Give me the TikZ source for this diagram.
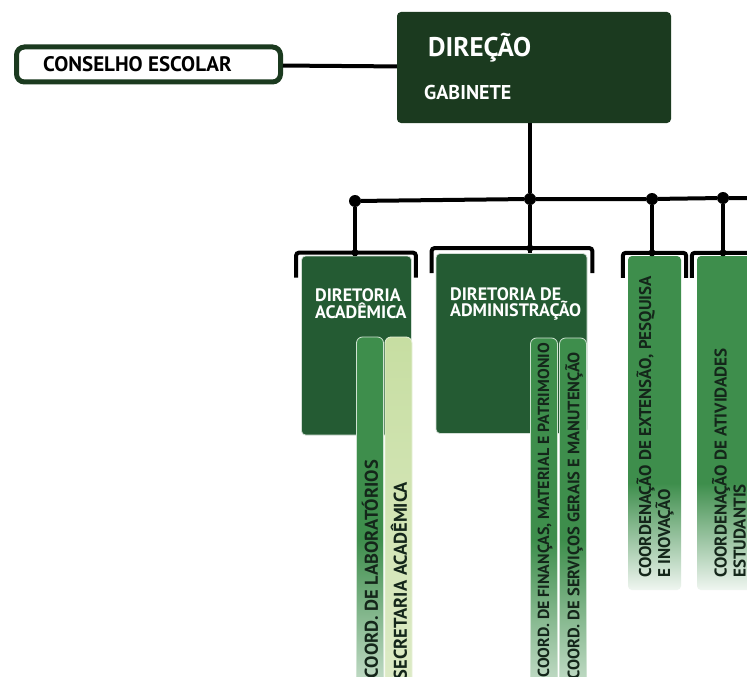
\documentclass[tikz,border=0pt]{standalone}
\usepackage{fontspec}
\setmainfont{PT Sans}
\usetikzlibrary{positioning}
\definecolor{headgreen}{HTML}{1B3A1F}
\definecolor{boardgreen}{HTML}{245B33}
\definecolor{bargreen}{HTML}{3E8E4C}
\definecolor{palegreen}{HTML}{C7DEA2}
\definecolor{inkgreen}{HTML}{14261A}
\colorlet{fadegreen}{white!92!bargreen}
\colorlet{lowgreen}{white!65!bargreen}
\pgfdeclareverticalshading{extfade}{100bp}{color(0bp)=(fadegreen); color(25bp)=(fadegreen); color(41bp)=(bargreen); color(100bp)=(bargreen)}
\pgfdeclareverticalshading{subfade}{100bp}{color(0bp)=(lowgreen); color(28bp)=(lowgreen); color(47bp)=(bargreen); color(100bp)=(bargreen)}
\tikzstyle{council} = [rectangle, rounded corners=8pt, draw=headgreen, line width=5pt, fill=white, minimum width=264pt, minimum height=35pt]
\tikzstyle{head} = [rectangle, rounded corners=4pt, fill=headgreen, minimum width=274pt, minimum height=111pt]
\tikzstyle{board} = [rectangle, rounded corners=4pt, fill=boardgreen, draw=white!80!boardgreen, line width=0.8pt]
\tikzstyle{bar} = [rectangle, rounded corners=6pt, draw=white!75!bargreen, line width=0.8pt, shading=subfade]
\tikzstyle{palebar} = [rectangle, rounded corners=6pt, draw=white!60!palegreen, line width=0.8pt, top color=palegreen, bottom color=palegreen!60]
\tikzstyle{tallbar} = [rectangle, rounded corners=4pt, shading=extfade]
\tikzstyle{link} = [line width=4pt]
\tikzstyle{bracket} = [line width=4pt, rounded corners=3pt]
\tikzstyle{dot} = [circle, fill=black, inner sep=0pt, minimum size=12pt]
\tikzstyle{knot} = [circle, fill=black, inner sep=0pt, minimum size=7pt]
\tikzstyle{bartext} = [rotate=90, inner sep=0pt, text=inkgreen, font=\bfseries\fontsize{17}{19}\selectfont]
\tikzstyle{boxtext} = [inner sep=0pt, anchor=west, text=white, font=\bfseries\fontsize{18}{15}\selectfont, align=left]

\begin{document}
\begin{tikzpicture}[x=1pt, y=-1pt]
\clip (0,0) rectangle (747,677);
\fill[white] (0,0) rectangle (747,677);

% top level
\node (council) [council] at (148.5,64.5) {};
\node (councillabel) [anchor=west, inner sep=0pt, text=black, font=\bfseries\fontsize{21}{21}\selectfont] at (43,64.5) {CONSELHO ESCOLAR};
\node (dir) [head] at (534,67.5) {};
\node (dirlabel) [anchor=west, inner sep=0pt, text=white, font=\bfseries\fontsize{27}{27}\selectfont] at (428,48) {DIREÇÃO};
\node (gablabel) [anchor=west, inner sep=0pt, text=white, font=\bfseries\fontsize{20}{20}\selectfont] at (424,92.5) {GABINETE};

% boards and bars
\node (aca) [board, minimum width=110pt, minimum height=179pt] at (356.5,345.5) {};
\node (acalabel) [boxtext] at (315,304) {DIRETORIA\\ACADÊMICA};
\node (adm) [board, minimum width=151pt, minimum height=180pt] at (511.5,343.5) {};
\node (admlabel) [boxtext] at (450,304) {DIRETORIA DE\\ADMINISTRAÇÃO};

\node (lab) [bar, minimum width=27pt, minimum height=360pt] at (370,517) {};
\node (sec) [palebar, minimum width=27pt, minimum height=360pt] at (398.5,517) {};
\node (fin) [bar, minimum width=27pt, minimum height=360pt] at (544,518) {};
\node (ser) [bar, minimum width=27pt, minimum height=360pt] at (573,518) {};
\node (ext) [tallbar, minimum width=53pt, minimum height=334pt] at (654.5,423) {};
\node (est) [tallbar, minimum width=54pt, minimum height=334pt] at (724,423) {};

\node (labtext) [bartext, anchor=east, font=\bfseries\fontsize{18.5}{19}\selectfont] at (370,460) {COORD. DE LABORATÓRIOS};
\node (sectext) [bartext, anchor=east, font=\bfseries\fontsize{18.5}{19}\selectfont] at (399,482) {SECRETARIA ACADÊMICA};
\node (fintext) [bartext, anchor=east, font=\bfseries\fontsize{16}{19}\selectfont] at (545,343) {COORD. DE FINANÇAS, MATERIAL E PATRIMONIO};
\node (sertext) [bartext, anchor=east, font=\bfseries\fontsize{16.5}{19}\selectfont] at (574,352) {COORD. DE SERVIÇOS GERAIS E MANUTENÇÃO};
\node (exttext) [bartext, anchor=west, align=left] at (655,578) {COORDENAÇÃO DE EXTENSÃO, PESQUISA\\E INOVAÇÃO};
\node (esttext) [bartext, anchor=west, align=left] at (729,578) {COORDENAÇÃO DE ATIVIDADES\\ESTUDANTIS};

% connectors
\node (dA) [dot] at (355,201) {};
\node (dB) [dot] at (530,199) {};
\node (dC) [dot] at (652,199) {};
\node (dD) [dot] at (723,198) {};
\coordinate (edge) at (760,198);

\draw [link] (council) -- (dir);
\draw [link] (dB |- dir.south) -- (dB);
\draw [link] (dA) -- (dB) -- (dC) -- (dD) -- (edge);

\draw [bracket] ([xshift=-5pt, yshift=-22pt]aca.north west) |- ([yshift=3pt]aca.north) -| ([xshift=4pt, yshift=-22pt]aca.north east);
\draw [bracket] ([xshift=-4pt, yshift=-20pt]adm.north west) |- ([yshift=5pt]adm.north) -| ([xshift=5pt, yshift=-20pt]adm.north east);
\draw [bracket] ([xshift=-5pt, yshift=-22pt]ext.north west) |- ([yshift=3pt]ext.north) -| ([xshift=5pt, yshift=-22pt]ext.north east);
\draw [bracket] ([xshift=-5pt, yshift=-22pt]est.north west) |- ([yshift=3pt]est.north) -| ([xshift=5pt, yshift=-22pt]est.north east);

\draw [link] (dA) -- (dA |- aca.north) node (kA) [knot, yshift=3pt] {};
\draw [link] (dB) -- (dB |- adm.north) node (kB) [knot, yshift=5pt] {};
\draw [link] (dC) -- (dC |- ext.north) node (kC) [knot, yshift=3pt] {};
\draw [link] (dD) -- (dD |- est.north) node (kD) [knot, yshift=3pt] {};

\end{tikzpicture}
\end{document}
